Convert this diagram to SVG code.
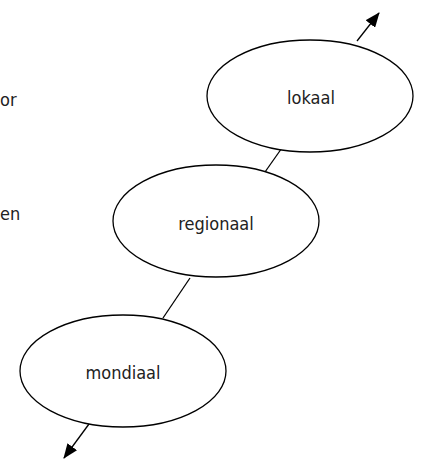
<svg xmlns="http://www.w3.org/2000/svg" width="422" height="460" viewBox="0 0 422 460">
<style>
.node ellipse{fill:#fff;stroke:#000;stroke-width:1.3}
.lbl{font-family:"DejaVu Sans Condensed","DejaVu Sans",sans-serif;font-size:18px;fill:#222;text-anchor:middle}
.side{font-family:"DejaVu Sans Condensed","DejaVu Sans",sans-serif;font-size:18px;fill:#222}
.edge{stroke:#000;stroke-width:1.3;fill:none}
</style>
<defs>
<marker id="arr" viewBox="0 0 15 12" refX="14" refY="6" markerWidth="15" markerHeight="12" markerUnits="userSpaceOnUse" orient="auto">
<path d="M0,0 L15,6 L0,12 z" fill="#000"/>
</marker>
</defs>
<text class="side" x="0" y="106">or</text>
<text class="side" x="0" y="220">en</text>
<g id="connectors">
<line class="edge" x1="357" y1="41" x2="379" y2="13" marker-end="url(#arr)"/>
<line class="edge" x1="284" y1="145" x2="265" y2="172"/>
<line class="edge" x1="190" y1="278" x2="163" y2="318"/>
<line class="edge" x1="89" y1="424" x2="64" y2="458" marker-end="url(#arr)"/>
</g>
<g id="lokaal" class="node">
<ellipse cx="310" cy="96" rx="103" ry="56"/>
<text class="lbl" x="311" y="104">lokaal</text>
</g>
<g id="regionaal" class="node">
<ellipse cx="216" cy="221" rx="103" ry="56"/>
<text class="lbl" x="216" y="230">regionaal</text>
</g>
<g id="mondiaal" class="node">
<ellipse cx="123" cy="371" rx="103" ry="56"/>
<text class="lbl" x="123" y="379">mondiaal</text>
</g>
</svg>
